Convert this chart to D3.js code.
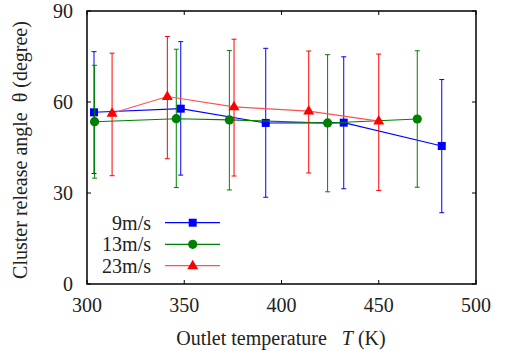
<!DOCTYPE html>
<html><head><meta charset="utf-8">
<script src="https://cdn.jsdelivr.net/npm/d3@7"></script>
<style>
body{margin:0;background:#fff}
svg{display:block;font-family:"Liberation Serif","Times New Roman",Times,serif}
svg text{font-family:"Liberation Serif","Times New Roman",Times,serif !important}
</style>
</head><body>
<svg id="c" width="507" height="351" font-family="Liberation Serif"></svg>
<script>
const xTicks = [300, 350, 400, 450, 500];
const yTicks = [0, 30, 60, 90];
const seriesNames = ["9m/s", "13m/s", "23m/s"];
const t9 = [303.6, 348.2, 391.9, 432.0, 482.4];
const v9 = [56.6, 57.8, 53.1, 53.2, 45.5];
const hi9 = [76.6, 79.9, 77.7, 74.9, 67.4];
const lo9 = [36.4, 35.9, 28.6, 31.4, 23.5];
const t13 = [303.9, 345.9, 373.2, 423.7, 469.8];
const v13 = [53.5, 54.5, 54.1, 53.1, 54.4];
const hi13 = [72.1, 77.4, 77.0, 75.6, 76.9];
const lo13 = [34.9, 31.8, 31.0, 30.4, 31.9];
const t23 = [312.9, 341.3, 375.6, 414.0, 450.0];
const v23 = [56.3, 61.8, 58.4, 57.0, 53.7];
const hi23 = [76.1, 81.6, 80.7, 76.8, 75.8];
const lo23 = [35.7, 41.3, 35.6, 36.6, 30.8];

const svg = d3.select("#c");
const L = 87, R = 476, T = 11, B = 284;
const x = d3.scaleLinear().domain([300, 500]).range([L, R]);
const y = d3.scaleLinear().domain([0, 90]).range([B, T]);
const fs = "20px";

const series = [
  {name: seriesNames[0], t: t9, v: v9, hi: hi9, lo: lo9, color: "#0000ff", line: "#0000ff", sym: "square"},
  {name: seriesNames[1], t: t13, v: v13, hi: hi13, lo: lo13, color: "#008000", line: "#008000", sym: "circle"},
  {name: seriesNames[2], t: t23, v: v23, hi: hi23, lo: lo23, color: "#ff0000", line: "#ff5050", sym: "triangle"}
];

function marker(g, sym, cx, cy, color) {
  if (sym === "square") {
    g.append("rect").attr("x", cx - 4).attr("y", cy - 4).attr("width", 8).attr("height", 8).attr("fill", color);
  } else if (sym === "circle") {
    g.append("circle").attr("cx", cx).attr("cy", cy).attr("r", 4.6).attr("fill", color);
  } else {
    g.append("path").attr("d", `M${cx},${cy - 6}L${cx + 5.5},${cy + 3.5}L${cx - 5.5},${cy + 3.5}Z`).attr("fill", color);
  }
}

const axes = svg.append("g");
xTicks.forEach(v => {
  axes.append("line").attr("x1", x(v)).attr("x2", x(v)).attr("y1", B).attr("y2", B - 4).attr("stroke", "#000").attr("stroke-width", 1);
  axes.append("line").attr("x1", x(v)).attr("x2", x(v)).attr("y1", T).attr("y2", T + 4).attr("stroke", "#000").attr("stroke-width", 1);
  axes.append("text").attr("x", x(v)).attr("y", 312).attr("text-anchor", "middle")
    .style("font-size", fs).attr("fill", "#222").text(v);
});
yTicks.forEach(v => {
  axes.append("line").attr("x1", L).attr("x2", L + 4).attr("y1", y(v)).attr("y2", y(v)).attr("stroke", "#000").attr("stroke-width", 1);
  axes.append("line").attr("x1", R).attr("x2", R - 4).attr("y1", y(v)).attr("y2", y(v)).attr("stroke", "#000").attr("stroke-width", 1);
  axes.append("text").attr("x", 73).attr("y", y(v) + 6.5).attr("text-anchor", "end")
    .style("font-size", fs).attr("fill", "#222").text(v);
});

series.forEach(s => {
  const g = svg.append("g");
  const pts = s.t.map((t, i) => ({t, v: s.v[i], hi: s.hi[i], lo: s.lo[i]}));
  g.append("path").datum(pts).attr("fill", "none").attr("stroke", s.line).attr("stroke-width", 1.1)
    .attr("d", d3.line().x(d => x(d.t)).y(d => y(d.v)));
  pts.forEach(d => {
    const cx = x(d.t);
    g.append("line").attr("x1", cx).attr("x2", cx).attr("y1", y(d.hi)).attr("y2", y(d.lo)).attr("stroke", s.color).attr("stroke-width", 1);
    [d.hi, d.lo].forEach(e => g.append("line").attr("x1", cx - 2.5).attr("x2", cx + 2.5).attr("y1", y(e)).attr("y2", y(e)).attr("stroke", s.color).attr("stroke-width", 1));
  });
  pts.forEach(d => marker(g, s.sym, x(d.t), y(d.v), s.color));
});

const ly = [222.7, 244.3, 265.7];
series.forEach((s, i) => {
  const g = svg.append("g");
  g.append("text").attr("x", 151).attr("y", ly[i] + 7).attr("text-anchor", "end")
    .style("font-size", fs).attr("fill", "#222").text(s.name);
  g.append("line").attr("x1", 165).attr("x2", 220).attr("y1", ly[i]).attr("y2", ly[i]).attr("stroke", s.line).attr("stroke-width", 1.3);
  marker(g, s.sym, 192.7, ly[i], s.color);
});

svg.append("rect").attr("x", L).attr("y", T).attr("width", R - L).attr("height", B - T)
  .attr("fill", "none").attr("stroke", "#000").attr("stroke-width", 1.5);

const xl = svg.append("text").attr("x", 281).attr("y", 345).attr("text-anchor", "middle")
  .style("font-size", fs).attr("fill", "#222");
xl.append("tspan").text("Outlet temperature\u00a0\u00a0\u00a0");
xl.append("tspan").style("font-style", "italic").text("T");
xl.append("tspan").text(" (K)");

svg.append("text").attr("transform", "translate(27,150) rotate(-90)").attr("text-anchor", "middle")
  .style("font-size", fs).attr("fill", "#222")
  .text("Cluster release angle\u00a0\u00a0θ (degree)");
</script>
</body></html>
